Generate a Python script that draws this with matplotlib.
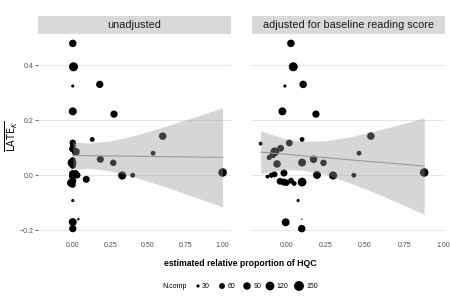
import numpy as np
import matplotlib
matplotlib.use("Agg")
import matplotlib.pyplot as plt

plt.rcParams['font.family'] = ['Liberation Sans', 'DejaVu Sans']
plt.rcParams['axes.unicode_minus'] = True

# ---- data ----
panel_titles = ["unadjusted", "adjusted for baseline reading score"]

# unadjusted panel
x_unadj = [0.0, 0.005, 0.0, 0.18, 0.0, 0.275, 0.13, 0.60, 0.536, 0.184, 0.27, 0.33, 0.40, 1.0,
           0.09, 0.0, 0.037, 0.0, 0.0,
           0.0, 0.0, -0.005, 0.02, 0.01, 0.0, -0.005, 0.0, 0.0, 0.015, 0.03, -0.005, 0.0,
           -0.01, 0.0, 0.02]
y_unadj = [0.479, 0.394, 0.324, 0.33, 0.232, 0.222, 0.13, 0.142, 0.08, 0.058, 0.045, -0.001, 0.0, 0.01,
           -0.015, -0.092, -0.16, -0.17, -0.194,
           0.118, 0.105, 0.095, 0.085, 0.09, 0.055, 0.045, 0.035, 0.005, 0.002, 0.0, -0.005, -0.02,
           -0.028, -0.035, 0.008]
n_unadj = [90, 126, 30, 86, 101, 85, 45, 90, 45, 80, 70, 105, 45, 115,
           80, 30, 26, 100, 85,
           70, 60, 60, 100, 60, 60, 120, 70, 90, 90, 70, 60, 80,
           110, 60, 60]

# adjusted panel
x_adj = [0.029, 0.044, -0.009, 0.107, -0.025, 0.188, 0.10, 0.537, 0.462, 0.173, 0.236, 0.297, 0.429, 0.876,
         0.195, 0.10, 0.075, 0.098, -0.004, 0.098,
         -0.163, -0.109, -0.073, -0.085, -0.036, -0.059, 0.019, 0.10,
         -0.12, -0.095, -0.075, -0.015, -0.04, -0.015, 0.0, 0.05, 0.03]
y_adj = [0.479, 0.394, 0.324, 0.33, 0.232, 0.222, 0.13, 0.142, 0.08, 0.058, 0.045, -0.001, 0.0, 0.01,
         0.001, -0.025, -0.092, -0.16, -0.171, -0.194,
         0.115, 0.064, 0.085, 0.075, 0.098, 0.041, 0.117, 0.046,
         -0.005, 0.0, 0.003, 0.008, -0.022, -0.025, -0.027, -0.03, -0.02]
n_adj = [90, 125, 30, 90, 100, 85, 45, 90, 45, 90, 70, 105, 45, 115,
         100, 120, 30, 22, 100, 90,
         35, 50, 120, 80, 75, 90, 75, 100,
         35, 50, 60, 80, 75, 80, 70, 45, 60]

# fitted line and confidence band
fit_x_unadj = [0.0, 0.1, 0.25, 0.4, 0.55, 0.7, 0.85, 1.0]
fit_y_unadj = [0.072, 0.071, 0.070, 0.069, 0.068, 0.067, 0.066, 0.065]
fit_hi_unadj = [0.122, 0.117, 0.124, 0.143, 0.166, 0.192, 0.218, 0.245]
fit_lo_unadj = [0.022, 0.025, 0.016, -0.005, -0.030, -0.058, -0.086, -0.115]

fit_x_adj = [-0.163, 0.0, 0.1, 0.25, 0.4, 0.55, 0.7, 0.876]
fit_y_adj = [0.084, 0.076, 0.071, 0.064, 0.056, 0.049, 0.042, 0.033]
fit_hi_adj = [0.161, 0.132, 0.123, 0.125, 0.139, 0.159, 0.181, 0.208]
fit_lo_adj = [0.007, 0.020, 0.019, 0.003, -0.027, -0.061, -0.097, -0.142]

size_breaks = [30, 60, 90, 120, 150]
x_ticks = [0.0, 0.25, 0.5, 0.75, 1.0]
y_ticks = [-0.2, 0.0, 0.2, 0.4]


def diam_px(n):
    n = np.asarray(n, dtype=float)
    return 1.3 + 8.9 * np.sqrt(np.clip(n - 24, 0, None) / 136.0)


def msize(n):
    # area scale: diameter in px -> marker area in pt^2
    return (diam_px(n) * 0.72) ** 2


W, H = 450, 300
fig = plt.figure(figsize=(4.5, 3), dpi=100)


def fx(px):
    return px / W


def fy(px):
    return 1 - px / H


panels = [
    (38, 231, (-0.232, 1.056), x_unadj, y_unadj, n_unadj,
     fit_x_unadj, fit_y_unadj, fit_lo_unadj, fit_hi_unadj),
    (252, 445, (-0.218, 1.008), x_adj, y_adj, n_adj,
     fit_x_adj, fit_y_adj, fit_lo_adj, fit_hi_adj),
]

top, bottom = 34, 238
for i, (l, r, xl, xs, ys, ns, fxs, fys, flo, fhi) in enumerate(panels):
    ax = fig.add_axes([fx(l), fy(bottom), fx(r - l), (bottom - top) / H])
    ax.set_xlim(*xl)
    ax.set_ylim(-0.228, 0.513)
    for s in ax.spines.values():
        s.set_visible(False)
    ax.set_yticks(y_ticks)
    ax.set_xticks(x_ticks)
    ax.yaxis.grid(True, color='#E6E6E6', lw=0.7)
    ax.set_axisbelow(True)
    ax.set_xticklabels(['0.00', '0.25', '0.50', '0.75', '1.00'])
    ax.tick_params(axis='x', length=0, pad=3, labelsize=5, labelcolor='#4D4D4D')
    if i == 0:
        ax.set_yticklabels(['\u22120.2', '0.0', '0.2', '0.4'])
        ax.tick_params(axis='y', length=2, width=0.5, color='#333333', pad=1,
                       labelsize=5, labelcolor='#4D4D4D')
    else:
        ax.tick_params(axis='y', length=0, labelleft=False)

    ax.scatter(xs, ys, s=msize(ns), c='black', linewidths=0, zorder=2)
    ax.fill_between(fxs, flo, fhi, color='#999999', alpha=0.4, linewidth=0, zorder=3)
    ax.plot(fxs, fys, color='#9A9A9A', lw=0.8, zorder=4)

    # facet strip
    st = fig.add_axes([fx(l), fy(top), fx(r - l), 18 / H])
    st.set_facecolor('#D9D9D9')
    st.set_xticks([])
    st.set_yticks([])
    for s in st.spines.values():
        s.set_visible(False)
    st.text(0.5, 0.5, panel_titles[i], ha='center', va='center', fontsize=7.8,
            color='#1A1A1A', transform=st.transAxes)

fig.text(fx(12), fy(136), r'$\overline{\mathrm{LATE}_K}$', rotation=90, ha='center',
         va='center', fontsize=7)
fig.text(fx(240), fy(264), 'estimated relative proportion of HQC', ha='center', va='center',
         fontsize=6.2, fontweight='bold')

# size legend, drawn on an overlay in pixel units
lg = fig.add_axes([0, 0, 1, 1], facecolor='none')
lg.set_xlim(0, W)
lg.set_ylim(H, 0)
lg.axis('off')
leg_y = 286
key_x = [198, 222, 247, 270, 299]
lg.text(162, leg_y, 'N.comp', ha='left', va='center', fontsize=5)
lg.scatter(key_x, [leg_y] * len(key_x), s=msize(size_breaks), c='black', linewidths=0)
for kx, b in zip(key_x, size_breaks):
    lg.text(kx + diam_px(b) / 2 + 2.5, leg_y, str(b), ha='left', va='center', fontsize=5)

fig.savefig('out.png', dpi=100)
